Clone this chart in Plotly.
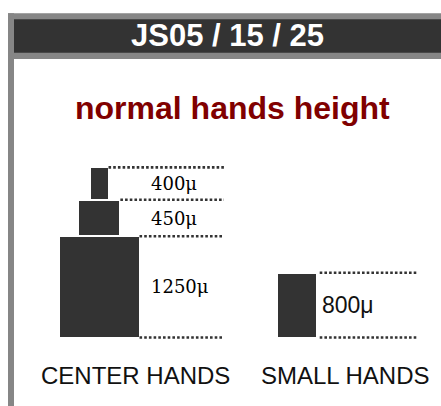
import plotly.graph_objects as go

# ---------------- data ----------------
title_text = "JS05 / 15 / 25"
subtitle_text = "normal hands height"
categories = ["CENTER HANDS", "SMALL HANDS"]
# center hands stack, bottom to top (microns)
center_values = [1250, 450, 400]
# small hands (microns)
small_values = [800]
unit = "\u03bc"

# ---------------- layout constants (pixels) ----------------
W, H = 441, 406
BASE_PX = 337.5          # pixel row of 0 µm
SCALE = 0.081            # pixels per µm
Y_MIN = -(H - BASE_PX) / SCALE
Y_MAX = Y_MIN + H / SCALE

CENTER_X = 99
CENTER_WIDTHS = [81, 42.7, 19]
SMALL_X = 297
SMALL_WIDTHS = [39.4]
BAR_COLOR = "#333333"
DOT_COLOR = "#333333"
LINE_END_CENTER = 224
LINE_END_SMALL = 417
LABEL_X_CENTER = 149
LABEL_X_SMALL = 320
CAT_X = [135.5, 345]


def paper_y(py):
    return 1 - py / H


def paper_x(px):
    return px / W


fig = go.Figure()

# ---------------- bars ----------------
def add_stack(xc, values, widths):
    base = 0
    bounds = [0]
    for v, w in zip(values, widths):
        fig.add_trace(go.Bar(
            x=[xc], y=[v], base=[base], width=[w],
            marker=dict(color=BAR_COLOR, line=dict(color="white", width=2)),
            hoverinfo="skip", showlegend=False,
        ))
        base += v
        bounds.append(base)
    return bounds


c_bounds = add_stack(CENTER_X, center_values, CENTER_WIDTHS)
s_bounds = add_stack(SMALL_X, small_values, SMALL_WIDTHS)


# ---------------- dotted guide lines ----------------
def add_guides(xc, bounds, widths, x_end, gap):
    for i, b in enumerate(bounds):
        adj = []
        if i > 0:
            adj.append(widths[i - 1])
        if i < len(widths):
            adj.append(widths[i])
        x0 = xc + max(adj) / 2 + gap
        fig.add_trace(go.Scatter(
            x=[x0, x_end], y=[b, b], mode="lines",
            line=dict(color=DOT_COLOR, width=2.6, dash="2.6px,2.1px"),
            hoverinfo="skip", showlegend=False,
        ))


add_guides(CENTER_X, c_bounds, CENTER_WIDTHS, LINE_END_CENTER, 0)
add_guides(SMALL_X, s_bounds, SMALL_WIDTHS, LINE_END_SMALL, 3)

# ---------------- value labels ----------------
for i, v in enumerate(center_values):
    mid = c_bounds[i] + v / 2
    fig.add_annotation(
        x=LABEL_X_CENTER, y=mid, xref="x", yref="y",
        text=f"{v}{unit}", showarrow=False, xanchor="left", yanchor="middle",
        font=dict(family="DejaVu Serif", size=18, color="#000000"),
    )
for i, v in enumerate(small_values):
    mid = s_bounds[i] + v / 2
    fig.add_annotation(
        x=LABEL_X_SMALL, y=mid, xref="x", yref="y",
        text=f"{v}{unit}", showarrow=False, xanchor="left", yanchor="middle",
        font=dict(family="Liberation Sans, Arial", size=23, color="#111111"),
    )

# ---------------- category labels ----------------
for cx, cat in zip(CAT_X, categories):
    fig.add_annotation(
        x=paper_x(cx), y=paper_y(375), xref="paper", yref="paper",
        text=cat, showarrow=False, xanchor="center", yanchor="middle",
        font=dict(family="Liberation Sans, Arial", size=24, color="#111111"),
    )

# ---------------- header / frame ----------------
shapes = [
    dict(type="rect", xref="paper", yref="paper",
         x0=paper_x(8), x1=paper_x(W), y0=paper_y(59), y1=paper_y(13.3),
         fillcolor="#868686", line=dict(width=0), layer="below"),
    dict(type="rect", xref="paper", yref="paper",
         x0=paper_x(14), x1=paper_x(W), y0=paper_y(52.7), y1=paper_y(19.3),
         fillcolor="#333333", line=dict(width=0), layer="below"),
    dict(type="rect", xref="paper", yref="paper",
         x0=paper_x(8), x1=paper_x(14), y0=paper_y(H), y1=paper_y(13.3),
         fillcolor="#868686", line=dict(width=0), layer="below"),
]

fig.add_annotation(
    x=paper_x(227.5), y=paper_y(35), xref="paper", yref="paper",
    text=f"<b>{title_text}</b>", showarrow=False, xanchor="center", yanchor="middle",
    font=dict(family="Liberation Sans, Arial", size=31, color="white"),
)
fig.add_annotation(
    x=paper_x(232.5), y=paper_y(108), xref="paper", yref="paper",
    text=f"<b>{subtitle_text}</b>", showarrow=False, xanchor="center", yanchor="middle",
    font=dict(family="Liberation Sans, Arial", size=32, color="#800000"),
)

fig.update_layout(
    width=W, height=H,
    margin=dict(l=0, r=0, t=0, b=0, pad=0),
    paper_bgcolor="white", plot_bgcolor="white",
    barmode="overlay", bargap=0,
    shapes=shapes,
    xaxis=dict(range=[0, W], visible=False, fixedrange=True),
    yaxis=dict(range=[Y_MIN, Y_MAX], visible=False, fixedrange=True),
    showlegend=False,
)

fig.write_html(
    "out.html",
    config={"displayModeBar": False},
    post_script="document.body.style.margin='0';document.body.style.overflow='hidden';",
)
